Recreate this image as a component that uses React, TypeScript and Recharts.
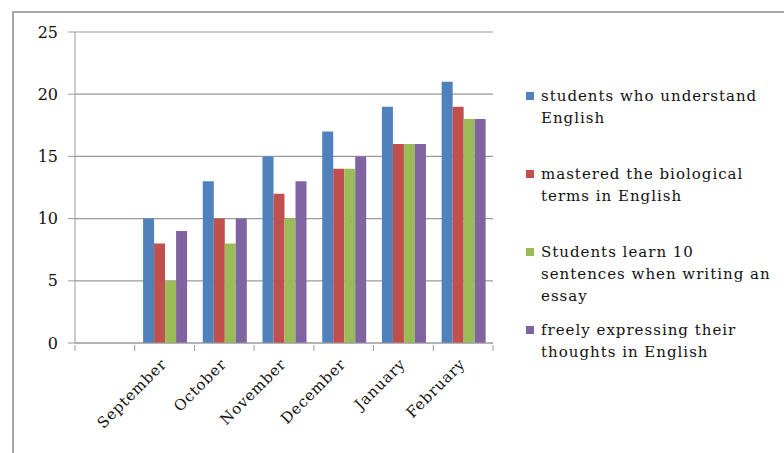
import { BarChart, Bar, XAxis, YAxis, CartesianGrid } from 'recharts';

const months = ['', 'September', 'October', 'November', 'December', 'January', 'February'];
const understandEnglish = [null, 10, 13, 15, 17, 19, 21];
const biologicalTerms = [null, 8, 10, 12, 14, 16, 19];
const tenSentences = [null, 5, 8, 10, 14, 16, 18];
const freelyExpressing = [null, 9, 10, 13, 15, 16, 18];
const yTicks = [0, 5, 10, 15, 20, 25];

const series = [
  { key: 'understand', name: 'students who understand English', color: '#4F81BD', values: understandEnglish },
  { key: 'terms', name: 'mastered the biological terms in English', color: '#C0504D', values: biologicalTerms },
  { key: 'sentences', name: 'Students learn 10 sentences when writing an essay', color: '#9BBB59', values: tenSentences },
  { key: 'freely', name: 'freely expressing their thoughts in English', color: '#8064A2', values: freelyExpressing },
];

const data = months.map((m, i) => {
  const row: any = { month: m };
  series.forEach((s) => {
    row[s.key] = s.values[i];
  });
  return row;
});

const FONT = '"DejaVu Serif", "Liberation Serif", serif';
const PLOT_LEFT = 75;
const PLOT_RIGHT = 493;
const HALF_BAND = (PLOT_RIGHT - PLOT_LEFT) / months.length / 2;

const MonthTick = (props: any) => {
  const { x, y, payload, index } = props;
  return (
    <g>
      <line x1={x - HALF_BAND} y1={y - 6} x2={x - HALF_BAND} y2={y} stroke="#9a9a9a" />
      {index === months.length - 1 && (
        <line x1={x + HALF_BAND} y1={y - 6} x2={x + HALF_BAND} y2={y} stroke="#9a9a9a" />
      )}
      <text
        x={x + 3}
        y={y + 14}
        textAnchor="end"
        fontFamily={FONT}
        fontSize={15}
        letterSpacing={0.8}
        fill="#111"
        transform={`rotate(-45, ${x + 3}, ${y + 14})`}
      >
        {payload.value}
      </text>
    </g>
  );
};

const SideLegend = () => (
  <div style={{ fontFamily: FONT, fontSize: 15, letterSpacing: 1, color: '#111', width: 260 }}>
    {series.map((s) => (
      <div key={s.key} style={{ display: 'flex', height: 78, alignItems: 'flex-start' }}>
        <span
          style={{
            display: 'inline-block',
            width: 8,
            height: 8,
            background: s.color,
            marginTop: 7,
            marginRight: 7,
            flexShrink: 0,
          }}
        />
        <span style={{ lineHeight: '22px', width: 236 }}>{s.name}</span>
      </div>
    ))}
  </div>
);

export default function App() {
  return (
    <div style={{ position: 'fixed', left: 0, top: 0, width: 784, height: 453, background: '#fff', overflow: 'hidden' }}>
      <div
        style={{
          position: 'absolute',
          left: 12,
          top: 11,
          width: 800,
          height: 500,
          borderLeft: '2px solid #a8a8a8',
          borderTop: '2px solid #a8a8a8',
        }}
      />
      <div style={{ position: 'absolute', left: 0, top: 0 }}>
        <BarChart
          width={784}
          height={453}
          data={data}
          margin={{ top: 32, right: 784 - PLOT_RIGHT, bottom: 50, left: PLOT_LEFT - 45 }}
          barCategoryGap="14%"
          barGap={0}
        >
          <CartesianGrid vertical={false} stroke="#9a9a9a" strokeWidth={1.2} />
          <XAxis
            dataKey="month"
            stroke="#9a9a9a"
            tickLine={false}
            interval={0}
            height={60}
            tick={<MonthTick />}
          />
          <YAxis
            domain={[0, 25]}
            ticks={yTicks}
            width={45}
            stroke="#9a9a9a"
            tickSize={7}
            tickMargin={10}
            tick={{ fontFamily: FONT, fontSize: 16, fill: '#111' }}
          />
          {series.map((s) => (
            <Bar key={s.key} dataKey={s.key} name={s.name} fill={s.color} isAnimationActive={false} />
          ))}
        </BarChart>
      </div>
      <div style={{ position: 'absolute', left: 526, top: 85 }}>
        <SideLegend />
      </div>
    </div>
  );
}
